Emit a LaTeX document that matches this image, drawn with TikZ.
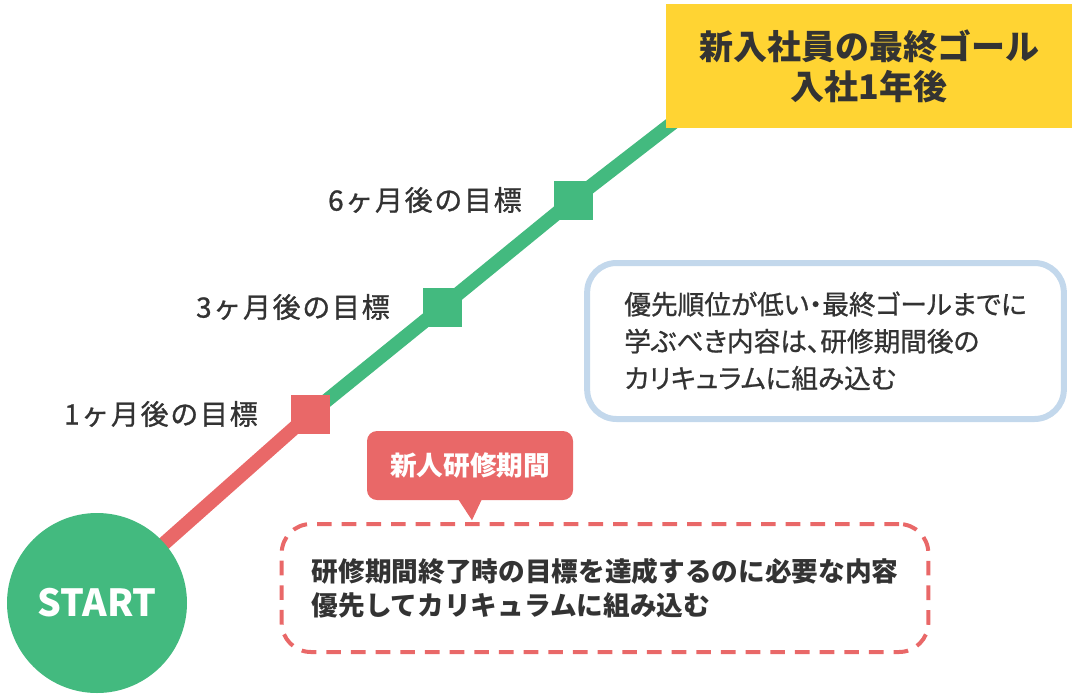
\documentclass[tikz,border=0pt]{standalone}
\usepackage{fontspec}
\newfontfamily\jp{Noto Sans CJK JP}
\newfontfamily\jplab[LetterSpace=6,FakeBold=1]{Noto Sans CJK JP}
\newfontfamily\jpnote[RawFeature=+palt,FakeBold=0.8]{Noto Sans CJK JP}
\usetikzlibrary{backgrounds}
\definecolor{grn}{HTML}{43BA7F}
\definecolor{redc}{HTML}{E96868}
\definecolor{yel}{HTML}{FFD433}
\definecolor{blu}{HTML}{C3D8EC}
\definecolor{txt}{HTML}{333333}
\tikzset{
  milestone/.style={rectangle, minimum size=29.25pt, inner sep=0pt, fill=#1},
  goallabel/.style={anchor=east, text=txt, inner sep=0pt, font=\jplab\fontsize{21pt}{24pt}\selectfont},
  track/.style={line width=10.5pt, draw=#1},
  goalbox/.style={fill=yel, minimum width=304.5pt, minimum height=93pt, align=center, text=txt,
    font=\jp\bfseries\fontsize{25.5pt}{30pt}\selectfont},
  startc/.style={circle, fill=grn, minimum size=135pt, inner sep=0pt, text=white,
    font=\jp\bfseries\fontsize{28pt}{32pt}\selectfont},
  tagbox/.style={fill=redc, rounded corners=7.5pt, minimum width=154.5pt, minimum height=51.75pt,
    text=white, font=\jp\bfseries\fontsize{20pt}{24pt}\selectfont},
  dashbox/.style={draw=redc, line width=3pt, dash pattern=on 11pt off 7.5pt, rounded corners=22pt,
    minimum width=485pt, minimum height=96pt, align=left, text=txt,
    font=\jp\bfseries\fontsize{20pt}{25.5pt}\selectfont},
  notebox/.style={draw=blu, line width=4.5pt, rounded corners=22pt, fill=white,
    minimum width=357.5pt, minimum height=117pt, align=left, text=txt,
    font=\jpnote\fontsize{20pt}{27.75pt}\selectfont},
}
\begin{document}
\begin{tikzpicture}[x=0.75pt,y=-0.75pt]
\useasboundingbox (0,0) rectangle (1080,696);

\node[startc] (start) at (97,603) {START};
\node[milestone=redc] (m1) at (310,414) {};
\node[milestone=grn] (m3) at (442,307) {};
\node[milestone=grn] (m6) at (573,200) {};
\node[goalbox] (goal) at (869,66) {新入社員の最終ゴール\\入社1年後};

\begin{scope}[on background layer]
  \draw[track=redc] (start.center) -- (m1.center);
  \draw[track=grn] (m1.center) -- (m3.center) -- (m6.center);
  \draw[track=grn, shorten >=-20pt] (m6.center) -- (goal.south west);
\end{scope}

\node[goallabel] (l1) at (258,414) {1ヶ月後の目標};
\node[goallabel] (l3) at (390,307) {3ヶ月後の目標};
\node[goallabel] (l6) at (522,200) {6ヶ月後の目標};

\node[notebox] (note) at (825.5,341) {優先順位が低い・最終ゴールまでに\\学ぶべき内容は、研修期間後の\\カリキュラムに組み込む};

\node[dashbox] (plan) at (605,588) {研修期間終了時の目標を達成するのに必要な内容\\優先してカリキュラムに組み込む};

\node[tagbox] (tag) at (470,465.5) {新人研修期間};
\fill[redc] ([xshift=-9pt,yshift=1pt]tag.south) -- ([xshift=9pt,yshift=1pt]tag.south) -- ([xshift=1.5pt,yshift=-15pt]tag.south) -- cycle;
\end{tikzpicture}
\end{document}
